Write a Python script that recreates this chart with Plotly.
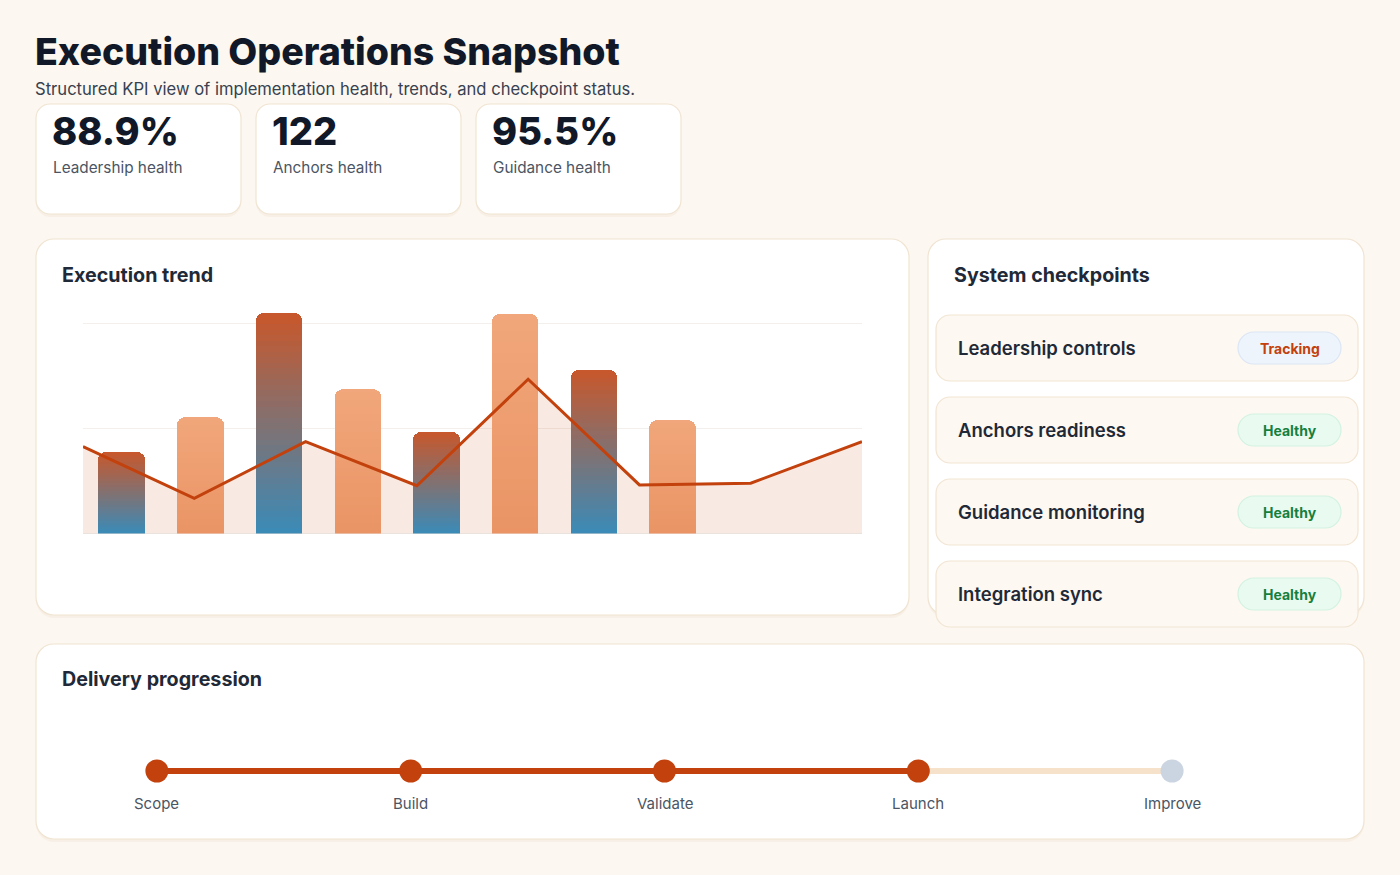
import plotly.graph_objects as go

W, H = 1400, 875

# ---------------- data ----------------
title_text = "Execution Operations Snapshot"
subtitle_text = "Structured KPI view of implementation health, trends, and checkpoint status."

kpi_values = ["88.9%", "122", "95.5%"]
kpi_labels = ["Leadership health", "Anchors health", "Guidance health"]

bar_values = [38.8, 55.8, 105.2, 69.1, 48.6, 104.7, 78.1, 54.2]
bar_kinds = ["gradient", "solid", "gradient", "solid", "gradient", "solid", "gradient", "solid"]
line_values = [41.5, 16.8, 43.8, 22.8, 73.6, 23.2, 24.0, 43.8]

checkpoint_names = ["Leadership controls", "Anchors readiness", "Guidance monitoring", "Integration sync"]
checkpoint_status = ["Tracking", "Healthy", "Healthy", "Healthy"]

stages = ["Scope", "Build", "Validate", "Launch", "Improve"]
stage_done = [True, True, True, True, False]

# ---------------- helpers ----------------
FONT = "Inter"
DARK = "#111827"
TXT = "#1F2937"
MUTED = "#4B5563"
ACCENT = "#C2410C"


def px(x):
    return x / W


def py(y):
    return 1 - y / H


def rrect(x0, y0, x1, y1, r):
    k = 0.5523 * r
    p = [
        f"M {px(x0 + r)},{py(y0)}",
        f"L {px(x1 - r)},{py(y0)}",
        f"C {px(x1 - r + k)},{py(y0)} {px(x1)},{py(y0 + r - k)} {px(x1)},{py(y0 + r)}",
        f"L {px(x1)},{py(y1 - r)}",
        f"C {px(x1)},{py(y1 - r + k)} {px(x1 - r + k)},{py(y1)} {px(x1 - r)},{py(y1)}",
        f"L {px(x0 + r)},{py(y1)}",
        f"C {px(x0 + r - k)},{py(y1)} {px(x0)},{py(y1 - r + k)} {px(x0)},{py(y1 - r)}",
        f"L {px(x0)},{py(y0 + r)}",
        f"C {px(x0)},{py(y0 + r - k)} {px(x0 + r - k)},{py(y0)} {px(x0 + r)},{py(y0)}",
        "Z",
    ]
    return " ".join(p)


shapes = []
annotations = []


def card(x0, y0, x1, y1, r, fill="#FFFFFF", border="#F0E4D2", width=1.2, shadow=True):
    if shadow:
        shapes.append(dict(type="path", path=rrect(x0, y0 + 2, x1, y1 + 3, r), xref="paper", yref="paper",
                           fillcolor="rgba(180,140,90,0.06)", line=dict(width=0), layer="below"))
    shapes.append(dict(type="path", path=rrect(x0, y0, x1, y1, r), xref="paper", yref="paper",
                       fillcolor=fill, line=dict(color=border, width=width), layer="below"))


def label(x, y, text, size, color=TXT, weight=400, anchor="left"):
    annotations.append(dict(x=px(x), y=py(y), xref="paper", yref="paper", text=text, showarrow=False,
                            xanchor=anchor, yanchor="middle",
                            font=dict(family=FONT, size=size, color=color, weight=weight)))


def mix(c0, c1, t):
    return "rgb({},{},{})".format(*[round(a + (b - a) * t) for a, b in zip(c0, c1)])


# ---------------- header ----------------
label(33, 52, title_text, 37.5, DARK, 800)
label(33, 89, subtitle_text, 16.6, "#374151", 400)

# KPI cards
for i, (v, l) in enumerate(zip(kpi_values, kpi_labels)):
    x0 = 36 + i * 220
    card(x0, 104, x0 + 205, 214, 14)
    label(x0 + 14, 131, v, 38, DARK, 800)
    label(x0 + 15, 168, l, 15.3, MUTED, 400)

# Trend card
card(36, 239, 909, 615, 18)
label(60, 275, "Execution trend", 19.7, TXT, 700)

# Checkpoints card
card(928, 239, 1364, 615, 18)
label(952, 275, "System checkpoints", 19.7, TXT, 700)
for i, (name, st) in enumerate(zip(checkpoint_names, checkpoint_status)):
    y0 = 315 + i * 82
    card(936, y0, 1358, y0 + 66, 14, fill="#FDF8F1", border="#F2E5D3", shadow=False)
    cy = y0 + 33
    label(956, cy, name, 18.5, TXT, 600)
    if st == "Tracking":
        pf, pb, pc = "#EEF4FC", "#DCE6F4", "#C2410C"
    else:
        pf, pb, pc = "#E9FAF1", "#D3F2E1", "#15803D"
    card(1238, cy - 16, 1341, cy + 16, 16, fill=pf, border=pb, shadow=False)
    label(1289.5, cy, st, 14, pc, 700, anchor="center")

# Delivery card
card(36, 644, 1364, 839, 18)
label(60, 679, "Delivery progression", 19.7, TXT, 700)

# ---------------- figure ----------------
fig = go.Figure()

x_idx = list(range(len(line_values)))

# area fill (base axis, under bars)
fig.add_trace(go.Scatter(x=x_idx, y=line_values, mode="lines", fill="tozeroy",
                         fillcolor="rgba(210,105,60,0.15)", line=dict(width=0, color="rgba(0,0,0,0)"),
                         xaxis="x", yaxis="y", hoverinfo="skip", showlegend=False))

# bars with vertical gradient (stacked thin segments)
N = 40
grad_bot, grad_top = (58, 139, 184), (201, 87, 43)
sol_bot, sol_top = (234, 148, 101), (241, 167, 123)
bar_x = list(range(len(bar_values)))
for k in range(N):
    t = (k + 0.5) / N
    cols = [mix(grad_bot, grad_top, t) if kind == "gradient" else mix(sol_bot, sol_top, t)
            for kind in bar_kinds]
    fig.add_trace(go.Bar(x=bar_x, y=[v / N for v in bar_values], marker=dict(color=cols, line=dict(width=0)),
                         width=0.59, xaxis="x2", yaxis="y", hoverinfo="skip", showlegend=False))

# trend line (top)
fig.add_trace(go.Scatter(x=x_idx, y=line_values, mode="lines", line=dict(color=ACCENT, width=3),
                         xaxis="x3", yaxis="y", showlegend=False))

# delivery progression
stage_x = list(range(len(stages)))
last_done = max(i for i, d in enumerate(stage_done) if d)
fig.add_trace(go.Scatter(x=stage_x[last_done:], y=[0] * len(stage_x[last_done:]), mode="lines",
                         line=dict(color="#F6E2CB", width=6), xaxis="x4", yaxis="y4",
                         hoverinfo="skip", showlegend=False))
fig.add_trace(go.Scatter(x=stage_x[:last_done + 1], y=[0] * (last_done + 1), mode="lines",
                         line=dict(color=ACCENT, width=6), xaxis="x4", yaxis="y4",
                         hoverinfo="skip", showlegend=False))
fig.add_trace(go.Scatter(x=stage_x, y=[0] * len(stages), mode="markers",
                         marker=dict(size=23, color=[ACCENT if d else "#CBD5E1" for d in stage_done],
                                     line=dict(width=0)),
                         text=stages, hoverinfo="text", xaxis="x4", yaxis="y4", showlegend=False,
                         cliponaxis=False))
for sx, s in zip(stage_x, stages):
    annotations.append(dict(x=sx, y=0, xref="x4", yref="y4", text=s, showarrow=False, yshift=-32,
                            xanchor="center", yanchor="middle",
                            font=dict(family=FONT, size=15, color=MUTED)))

hidden = dict(showgrid=False, zeroline=False, showticklabels=False, showline=False, ticks="", fixedrange=True)

fig.update_layout(
    width=W, height=H, margin=dict(l=0, r=0, t=0, b=0),
    paper_bgcolor="#FCF7F0", plot_bgcolor="rgba(0,0,0,0)",
    barmode="stack", barcornerradius=8, bargap=0,
    showlegend=False,
    font=dict(family=FONT),
    xaxis=dict(domain=[px(83), px(862)], range=[0, len(line_values) - 1], **hidden),
    xaxis2=dict(overlaying="x", range=[-0.4917, 9.406], **hidden),
    xaxis3=dict(overlaying="x", range=[0, len(line_values) - 1], **hidden),
    yaxis=dict(domain=[py(533.5), py(303)], range=[0, 110], dtick=50, tick0=0,
               showgrid=True, gridcolor="#F2EFEC", gridwidth=1,
               zeroline=True, zerolinecolor="#ECE8E4", zerolinewidth=1,
               showticklabels=False, showline=False, ticks="", fixedrange=True),
    xaxis4=dict(domain=[px(30), px(1299)], range=[-0.5, 4.5], anchor="y4", **hidden),
    yaxis4=dict(domain=[py(801), py(741)], range=[-1, 1], anchor="x4", **hidden),
    shapes=shapes,
    annotations=annotations,
)

fig.write_html("out.html", config={"displayModeBar": False},
               post_script="document.body.style.margin='0';")
